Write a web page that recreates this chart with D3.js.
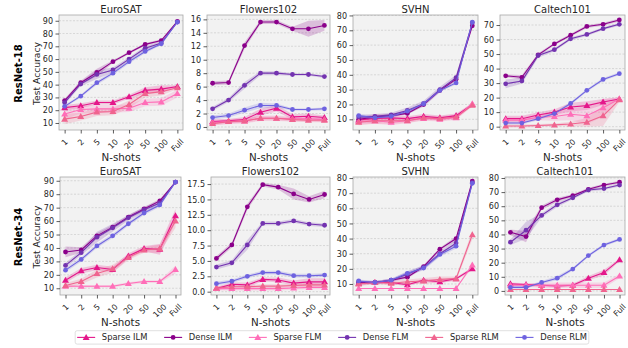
<!DOCTYPE html>
<html><head><meta charset="utf-8">
<script src="https://cdn.jsdelivr.net/npm/d3@7"></script>
<style>body{margin:0;background:#fff} svg{display:block;font-family:"DejaVu Sans",sans-serif}</style>
</head><body><svg id="c" width="628" height="348"></svg>
<script>
// ---- categories / labels ----
const shots = ["1","2","5","10","20","50","100","Full"];
const seriesNames = ["Sparse ILM","Dense ILM","Sparse FLM","Dense FLM","Sparse RLM","Dense RLM"];
const models = ["ResNet-18","ResNet-34"];
const datasets = ["EuroSAT","Flowers102","SVHN","Caltech101"];

// ---- values (rows follow seriesNames order) ----
const r18EuroSAT = [
  [22, 23.5, 26, 26, 30.5, 35.5, 36.5, 38.5],
  [27.5, 41.5, 49.5, 58, 65, 71.5, 74.5, 89.5],
  [17, 20.5, 21, 21, 21.5, 26, 26.5, 33],
  [26, 40.5, 48, 51.5, 60, 68.5, 72.5, 89],
  [13, 15, 18.5, 19, 24.5, 33, 34.5, 37.5],
  [23, 31, 41.5, 49, 58, 66, 72, 89]];
const r18EuroSATErr = [
  [2, 2, 1.5, 1.5, 1.5, 2.5, 3, 1],
  [1.5, 1.5, 3, 1, 1, 1, 1, 0.5],
  [4, 3, 3, 3, 3, 3, 3, 3],
  [1.5, 1.5, 3.5, 2, 1.5, 1.5, 1.5, 0.5],
  [4, 3, 3, 3, 3, 3, 3, 1],
  [1, 1, 1.5, 1.5, 1.5, 1.5, 1, 0.5]];

const r18Flowers = [
  [0.8, 0.9, 1.1, 2.2, 2.8, 1.5, 1.6, 1.4],
  [6.5, 6.6, 12.1, 15.6, 15.6, 14.6, 14.6, 15.1],
  [0.7, 0.8, 0.9, 1.3, 1.3, 1.2, 1.2, 1.1],
  [2.7, 4.0, 6.2, 8.0, 8.0, 7.8, 7.8, 7.5],
  [0.5, 0.8, 0.9, 1.3, 1.3, 1.1, 1.0, 1.0],
  [1.4, 1.7, 2.5, 3.2, 3.2, 2.6, 2.6, 2.7]];
const r18FlowersErr = [
  [0.3, 0.3, 0.4, 0.5, 0.5, 0.4, 0.4, 0.3],
  [0.3, 0.3, 0.5, 0.3, 0.3, 0.3, 1.2, 0.8],
  [0.4, 0.4, 0.4, 0.4, 0.4, 0.4, 0.4, 0.4],
  [0.3, 0.3, 0.5, 0.3, 0.3, 0.2, 0.2, 0.2],
  [0.3, 0.3, 0.3, 0.3, 0.3, 0.3, 0.3, 0.3],
  [0.3, 0.3, 0.4, 0.4, 0.3, 0.2, 0.2, 0.2]];

const r18SVHN = [
  [9.5, 10.5, 11, 10.5, 12, 11, 12.5, 20],
  [10, 11.5, 12.5, 14, 20, 29.5, 37, 73],
  [8.5, 9, 8, 9, 10.5, 10, 11, 20.5],
  [11.5, 12, 13, 16, 20.5, 30, 38, 75],
  [8, 9, 9, 9, 11, 10.5, 11.5, 19.5],
  [12.5, 11, 12, 15.5, 20.5, 29.5, 34.5, 75.5]];
const r18SVHNErr = [
  [1.5, 3, 2, 1.5, 1.5, 1.5, 1.5, 1],
  [1, 1, 1, 1, 1, 1, 1, 1],
  [2, 2, 2, 1.5, 1.5, 1.5, 1.5, 1],
  [1.5, 1.5, 1.5, 2, 2, 2, 2, 1],
  [2, 2, 2, 1.5, 1.5, 1.5, 1.5, 1],
  [1, 1, 1, 1, 1, 1, 1, 1]];

const r18Caltech = [
  [5.5, 5.5, 8, 10, 13.5, 14.5, 17, 19],
  [35, 34, 49.5, 57, 63, 69, 70.5, 73.5],
  [4.5, 4.5, 6.5, 7, 8.5, 7.5, 13, 19],
  [29.5, 31.5, 49, 53, 60.5, 63.5, 67.5, 70.5],
  [0.5, 0.5, 0.8, 1.2, 1.8, 3, 7.5, 18.5],
  [2.5, 2.5, 5.5, 9, 16, 25, 32.5, 36.5]];
const r18CaltechErr = [
  [2, 2, 2, 2, 3, 3, 2, 1],
  [1, 1.5, 1, 1, 1, 1, 1, 1],
  [2, 2, 2, 3, 4, 6, 6, 1.5],
  [3, 2, 1.5, 1, 1, 1, 1, 1],
  [1, 1, 1, 1, 1.5, 3, 7, 1.5],
  [1, 1, 1, 1, 1, 1, 1, 1]];

const r34EuroSAT = [
  [16, 23, 25.5, 24, 34, 39.5, 39, 64],
  [37, 38.5, 49, 55.5, 63, 69, 75, 89],
  [11.5, 11.5, 11.5, 11.5, 13.5, 15, 15, 24],
  [27, 36.5, 48, 55, 62.5, 68.5, 73.5, 89],
  [12, 15, 21, 24.5, 33, 38.5, 39.5, 60],
  [23.5, 31.5, 41.5, 49, 58, 66, 72, 89]];
const r34EuroSATErr = [
  [2, 2, 2, 2, 2, 2, 4, 5],
  [4, 2, 2, 1.5, 1.5, 1.5, 1.5, 0.5],
  [1, 1, 1, 1, 1, 1, 1, 3],
  [2, 2, 4, 3, 2, 2, 2, 0.5],
  [2, 2, 3, 3, 2, 2, 3, 5],
  [1.5, 1.5, 1.5, 1.5, 1.5, 1.5, 1.5, 0.5]];

const r34Flowers = [
  [0.5, 1.2, 1.1, 2.0, 1.9, 1.4, 1.6, 1.6],
  [5.4, 7.6, 13.8, 17.4, 17.0, 15.9, 15.0, 15.8],
  [0.5, 0.5, 0.5, 0.5, 0.5, 0.6, 0.7, 0.7],
  [4.0, 4.7, 7.6, 11.1, 11.1, 11.5, 11.0, 10.8],
  [0.6, 0.8, 0.8, 0.9, 0.9, 1.0, 1.1, 1.1],
  [1.3, 1.7, 2.5, 3.1, 3.1, 2.6, 2.6, 2.7]];
const r34FlowersErr = [
  [0.3, 0.3, 0.4, 0.3, 0.4, 0.4, 0.6, 0.6],
  [0.4, 0.4, 0.5, 0.3, 0.4, 0.9, 0.5, 0.6],
  [0.3, 0.3, 0.3, 0.3, 0.3, 0.3, 0.3, 0.3],
  [0.4, 0.4, 0.8, 0.3, 0.3, 0.3, 0.3, 0.3],
  [0.3, 0.3, 0.3, 0.3, 0.3, 0.3, 0.4, 0.4],
  [0.3, 0.3, 0.3, 0.3, 0.3, 0.3, 0.3, 0.3]];

const r34SVHN = [
  [10.5, 11, 11, 9.5, 12.5, 11.5, 13.5, 20],
  [11, 11, 12.5, 14.5, 21.5, 33, 40, 78],
  [7, 7, 7, 7, 7, 7, 7, 22.5],
  [11.5, 11, 12.5, 16.5, 21, 30, 37, 77],
  [10, 11, 10.5, 11.5, 12, 13, 13.5, 42.5],
  [12, 11, 12.5, 17, 20.5, 29.5, 35, 76.5]];
const r34SVHNErr = [
  [1.5, 1, 1, 1, 1, 1, 1, 1],
  [1, 1, 1, 1, 1, 1, 1.5, 1],
  [0.3, 0.3, 0.3, 0.3, 0.3, 0.3, 0.3, 1.5],
  [1, 1, 1, 1.5, 1.5, 1.5, 2, 1],
  [1.5, 1, 1.5, 1.5, 2, 2, 1.5, 3],
  [1, 1, 1, 1.5, 1.5, 1.5, 1.5, 1]];

const r34Caltech = [
  [5, 4.5, 4, 3.5, 4, 9, 13, 22],
  [41.5, 38.5, 59, 64.5, 67.5, 72, 75, 77],
  [4, 4, 4, 4, 4, 4, 4, 10.5],
  [34.5, 43, 53.5, 61, 66, 71.5, 72.5, 75],
  [1, 1, 1, 1, 1, 1, 1, 1],
  [2.5, 2.5, 6, 9, 15.5, 25, 32.5, 36.5]];
const r34CaltechErr = [
  [1, 1, 1, 1, 1, 1.5, 2, 1],
  [2, 4, 1.5, 1.5, 1, 1, 1, 1],
  [1, 1, 2, 2, 2, 2, 2, 1.5],
  [2, 6, 1.5, 1.5, 1, 1, 1, 1],
  [0.3, 0.3, 0.3, 0.3, 0.3, 0.3, 0.3, 0.3],
  [1, 1, 1, 1.5, 1, 1, 1, 1]];

// ---- tick values ----
const ticksEuro = [10,20,30,40,50,60,70,80,90];
const ticksFl18 = [0,2,4,6,8,10,12,14,16];
const ticksFl34 = [0,2.5,5,7.5,10,12.5,15,17.5];
const ticksSVHN = [10,20,30,40,50,60,70,80];
const ticksCal18 = [0,10,20,30,40,50,60,70];
const ticksCal34 = [0,10,20,30,40,50,60,70,80];

// ---- style / layout ----
const colors = ["#e4178a","#8b008b","#ff6eb8","#7333b0","#f0648f","#6e62e0"];
const isSparse = [true,false,true,false,true,false];
const svg = d3.select("#c");
const textColor = "#262626";

const panels = [
 {m:0,d:0,data:r18EuroSAT,err:r18EuroSATErr,x:[59,183],y:[15,130],dom:[4.5,94.5],ticks:ticksEuro,fmt:d3.format("d")},
 {m:0,d:1,data:r18Flowers,err:r18FlowersErr,x:[207,330],y:[15,130],dom:[-0.45,16.65],ticks:ticksFl18,fmt:d3.format("d")},
 {m:0,d:2,data:r18SVHN,err:r18SVHNErr,x:[353,478],y:[15,130],dom:[2.8,80.3],ticks:ticksSVHN,fmt:d3.format("d")},
 {m:0,d:3,data:r18Caltech,err:r18CaltechErr,x:[500,625],y:[15,130],dom:[-2.3,76.9],ticks:ticksCal18,fmt:d3.format("d")},
 {m:1,d:0,data:r34EuroSAT,err:r34EuroSATErr,x:[60,181],y:[177,295],dom:[5,92.8],ticks:ticksEuro,fmt:d3.format("d")},
 {m:1,d:1,data:r34Flowers,err:r34FlowersErr,x:[211,330],y:[177,295],dom:[-0.54,18.65],ticks:ticksFl34,fmt:d3.format(".1f")},
 {m:1,d:2,data:r34SVHN,err:r34SVHNErr,x:[353,478],y:[177,295],dom:[2.7,80.7],ticks:ticksSVHN,fmt:d3.format("d")},
 {m:1,d:3,data:r34Caltech,err:r34CaltechErr,x:[505,625],y:[177,295],dom:[-2.9,80.7],ticks:ticksCal34,fmt:d3.format("d")}
];

const tri = d3.symbol().type(d3.symbolTriangle).size(21);

panels.forEach(p => {
  const g = svg.append("g");
  const x = d3.scalePoint().domain(shots).range(p.x).padding(0.35);
  const y = d3.scaleLinear().domain(p.dom).range([p.y[1], p.y[0]]);
  g.append("rect").attr("x",p.x[0]).attr("y",p.y[0]).attr("width",p.x[1]-p.x[0]).attr("height",p.y[1]-p.y[0]).attr("fill","#f2f2f2");
  // grid
  g.selectAll("line.grid").data(p.ticks).join("line").attr("class","grid")
    .attr("x1",p.x[0]).attr("x2",p.x[1]).attr("y1",d=>y(d)).attr("y2",d=>y(d))
    .attr("stroke","#c4c4c4").attr("stroke-width",0.6).attr("stroke-dasharray","2,1.5");
  // bands
  p.data.forEach((vals,i) => {
    const pts = vals.map((v,j)=>({s:shots[j],v,e:p.err[i][j]}));
    const area = d3.area().x(d=>x(d.s)).y0(d=>y(d.v-d.e)).y1(d=>y(d.v+d.e));
    g.append("path").attr("d",area(pts)).attr("fill",colors[i]).attr("fill-opacity",0.21);
  });
  // lines & markers
  p.data.forEach((vals,i) => {
    const pts = vals.map((v,j)=>({s:shots[j],v}));
    const line = d3.line().x(d=>x(d.s)).y(d=>y(d.v));
    g.append("path").attr("d",line(pts)).attr("fill","none").attr("stroke",colors[i]).attr("stroke-width",1.1);
    if (isSparse[i]) {
      g.selectAll(null).data(pts).join("path").attr("d",tri)
        .attr("transform",d=>`translate(${x(d.s)},${y(d.v)+0.5})`).attr("fill",colors[i]);
    } else {
      g.selectAll(null).data(pts).join("circle").attr("cx",d=>x(d.s)).attr("cy",d=>y(d.v)).attr("r",2.4).attr("fill",colors[i]);
    }
  });
  // frame
  g.append("rect").attr("x",p.x[0]).attr("y",p.y[0]).attr("width",p.x[1]-p.x[0]).attr("height",p.y[1]-p.y[0])
    .attr("fill","none").attr("stroke","#a8a8a8").attr("stroke-width",0.8);
  // y axis
  const ya = g.append("g").attr("transform",`translate(${p.x[0]},0)`)
    .call(d3.axisLeft(y).tickValues(p.ticks).tickSize(3.5).tickPadding(2.5).tickFormat(p.fmt));
  ya.select(".domain").remove();
  ya.selectAll("line").attr("stroke","#333").attr("stroke-width",0.8);
  ya.selectAll("text").attr("font-size",8).attr("fill",textColor).attr("font-family","DejaVu Sans");
  // x axis
  const xa = g.append("g").attr("transform",`translate(0,${p.y[1]})`)
    .call(d3.axisBottom(x).tickSize(3.5).tickFormat(""));
  xa.select(".domain").remove();
  xa.selectAll("line").attr("stroke","#333").attr("stroke-width",0.8);
  shots.forEach(s => {
    const t = g.append("text").text(s).attr("font-size",8).attr("fill",textColor)
      .attr("text-anchor","middle").attr("dy","0.35em");
    const w = t.node().getComputedTextLength();
    const h = 9.3;
    const cy = p.y[1] + 3.5 + 3.5 + (w + h) / (2 * Math.SQRT2);
    t.attr("transform",`translate(${x(s)},${cy}) rotate(-45)`);
  });
  // title
  g.append("text").text(datasets[p.d]).attr("x",(p.x[0]+p.x[1])/2).attr("y",p.y[0]-6)
    .attr("text-anchor","middle").attr("dy","0.35em").attr("font-size",10).attr("fill",textColor);
  // xlabel
  g.append("text").text("N-shots").attr("x",(p.x[0]+p.x[1])/2).attr("y",p.y[1]+27)
    .attr("text-anchor","middle").attr("dy","0.35em").attr("font-size",10.3).attr("fill",textColor);
  if (p.d === 0) {
    const cyMid = (p.y[0]+p.y[1])/2 + 1;
    g.append("text").text("Test Accuracy").attr("transform",`translate(37,${cyMid}) rotate(-90)`)
      .attr("text-anchor","middle").attr("dy","0.35em").attr("font-size",9.2).attr("fill",textColor);
    g.append("text").text(models[p.m]).attr("transform",`translate(18,${cyMid}) rotate(-90)`)
      .attr("text-anchor","middle").attr("dy","0.35em").attr("font-size",10).attr("font-weight","bold").attr("fill","#000");
  }
});

// ---- legend ----
const lg = svg.append("g");
const fs = 8.35, handleLen = 18, handlePad = 6.7, colSpace = 16.7;
const ly = 337.4;
let cx = 0;
seriesNames.forEach((n,i) => {
  const it = lg.append("g").attr("transform",`translate(${cx},0)`);
  it.append("line").attr("x1",0).attr("x2",handleLen).attr("y1",ly).attr("y2",ly).attr("stroke",colors[i]).attr("stroke-width",1.1);
  if (isSparse[i]) it.append("path").attr("d",tri).attr("transform",`translate(${handleLen/2},${ly+0.5})`).attr("fill",colors[i]);
  else it.append("circle").attr("cx",handleLen/2).attr("cy",ly).attr("r",2.4).attr("fill",colors[i]);
  const t = it.append("text").text(n).attr("x",handleLen+handlePad).attr("y",ly).attr("dy","0.35em")
    .attr("font-size",fs).attr("fill",textColor);
  cx += handleLen + handlePad + t.node().getComputedTextLength() + colSpace;
});
const totalW = cx - colSpace;
const boxW = totalW + 4;
const centerX = 332;
const startX = centerX - totalW/2;
lg.attr("transform",`translate(${startX},0)`);
lg.insert("rect",":first-child").attr("x",-2).attr("y",330.7).attr("width",boxW).attr("height",13.4)
  .attr("rx",2).attr("fill","#fff").attr("stroke","#d8d8d8").attr("stroke-width",0.8);
</script>
</body></html>
